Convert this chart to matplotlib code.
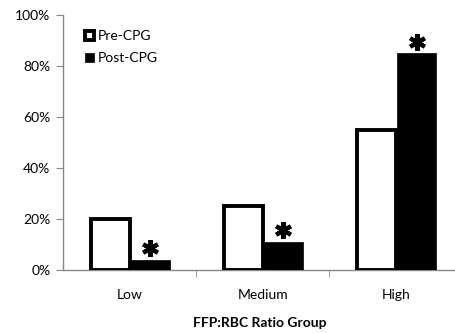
import matplotlib
matplotlib.use("Agg")
import matplotlib.pyplot as plt
from matplotlib.ticker import PercentFormatter
import numpy as np

categories = ["Low", "Medium", "High"]
pre_cpg = [20, 25, 55]
post_cpg = [4, 11, 85]
significant = [True, True, True]
yticks = [0, 20, 40, 60, 80, 100]

plt.rcParams['font.family'] = ['Lato', 'DejaVu Sans']

fig = plt.figure(figsize=(4.56, 3.33), dpi=100)
ax = fig.add_axes([63/456, 1-270/333, (456-63)/456, 255/333])

x = np.arange(len(categories))
w = 0.29
ax.bar(x - w/2, pre_cpg, width=w, color='white', edgecolor='black', linewidth=2.8, label='Pre-CPG', zorder=3)
ax.bar(x + w/2 + 0.01, post_cpg, width=w, color='black', edgecolor='black', linewidth=0.5, label='Post-CPG', zorder=3)

for xi, v, s in zip(x, post_cpg, significant):
    if s:
        ax.plot([xi + w/2 + 0.01], [v + 4.6], marker=(6, 2, 0), markersize=12,
                markeredgewidth=3, color='black', linestyle='none', zorder=4, clip_on=False)

ax.set_xlim(-0.5, 2.45)
ax.set_ylim(0, 100)
ax.set_yticks(yticks)
ax.yaxis.set_major_formatter(PercentFormatter(decimals=0))
ax.set_xticks(x)
ax.set_xticklabels(categories, fontsize=10)
ax.set_xticks([0.5, 1.5], minor=True)
ax.tick_params(axis='x', which='major', length=0, pad=14)
ax.tick_params(axis='x', which='minor', length=5, color='#888888', direction='out')
ax.tick_params(axis='y', length=5, color='#888888', labelsize=10, pad=4)

for side in ['top', 'right']:
    ax.spines[side].set_visible(False)
for side in ['left', 'bottom']:
    ax.spines[side].set_color('#888888')
    ax.spines[side].set_linewidth(1)

ax.set_xlabel("FFP:RBC Ratio Group", fontsize=10, fontweight='bold', labelpad=11)

leg = ax.legend(loc='upper left', bbox_to_anchor=(0.025, 0.99), frameon=False, fontsize=10,
                handlelength=0.6, handleheight=0.6, handletextpad=0.3, labelspacing=0.75)

fig.savefig("out.png", dpi=100)
